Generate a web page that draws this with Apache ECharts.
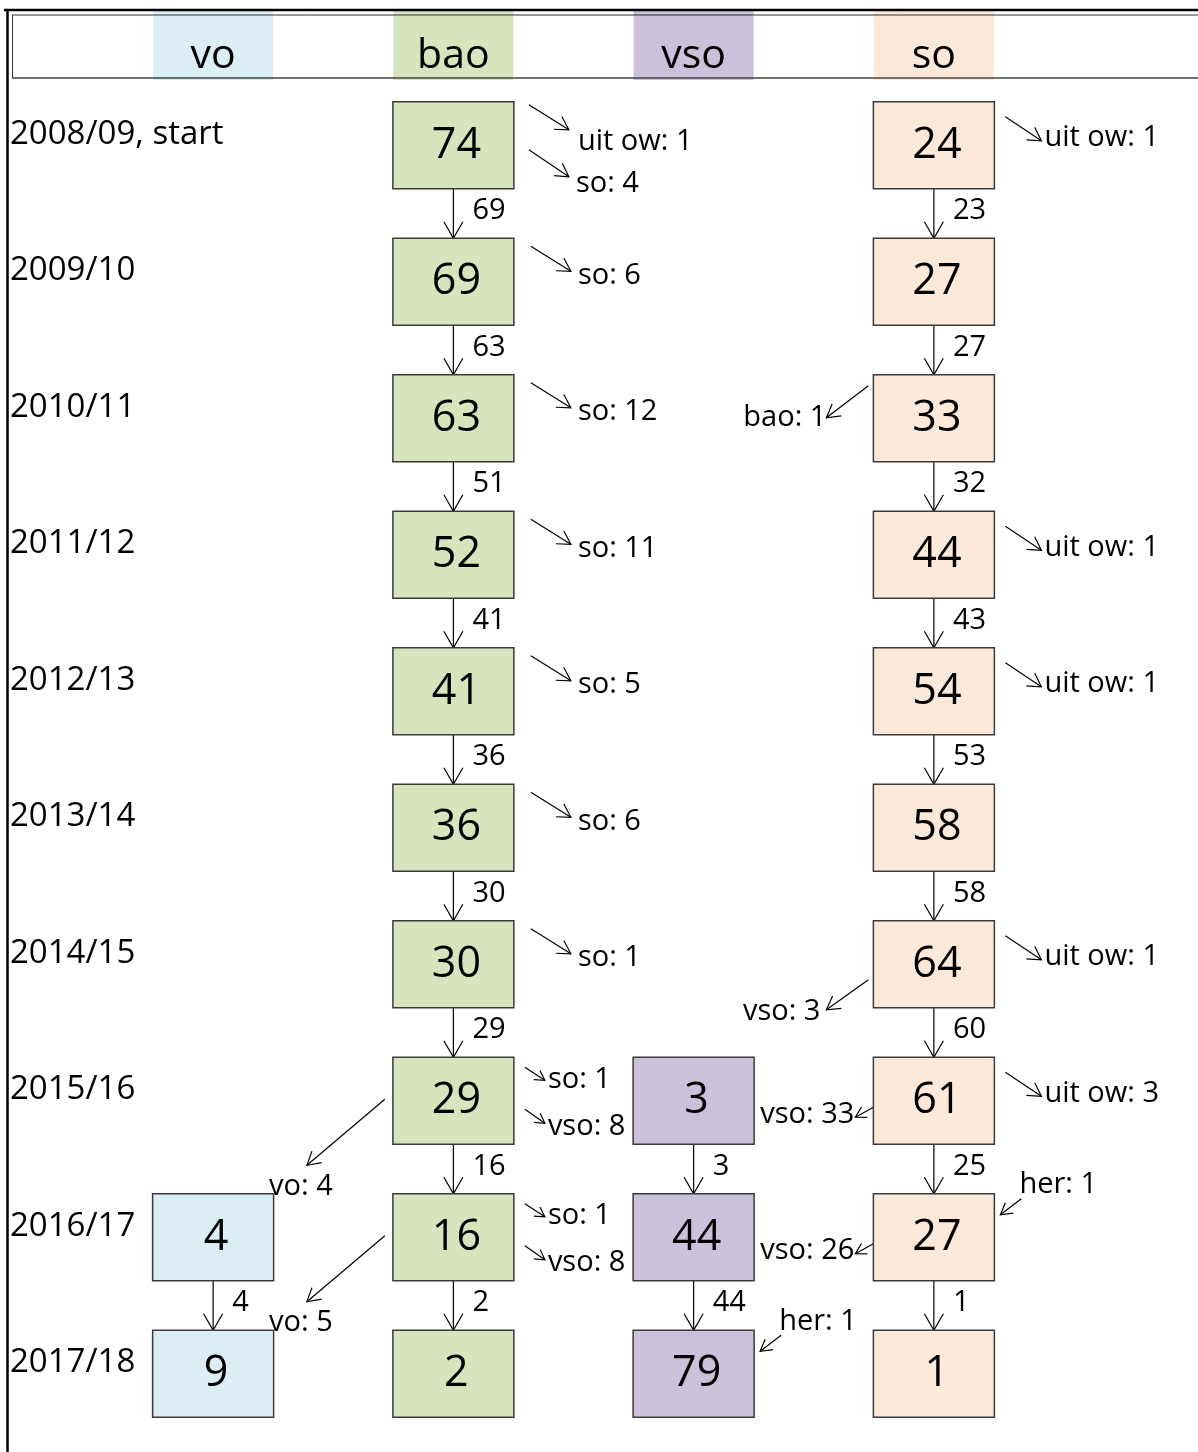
<!DOCTYPE html>
<html>
<head>
<meta charset="utf-8">
<title>doorstroom</title>
<script src="https://cdn.jsdelivr.net/npm/echarts@6/dist/echarts.min.js"></script>
<style>
  html, body { margin: 0; padding: 0; background: #fff; }
  #chart { width: 1198px; height: 1452px; }
</style>
</head>
<body>
<div id="chart"></div>
<script>
// rijen (schooljaren) en kolommen (groepen)
const years = ['2008/09, start', '2009/10', '2010/11', '2011/12', '2012/13',
  '2013/14', '2014/15', '2015/16', '2016/17', '2017/18']
const groups = ['vo', 'bao', 'vso', 'so']
const groupColors = ['#DAEEF3', '#D7E4BD', '#CCC1DA', '#FDE9D9']

// aantallen per jaar in elke groep
const voCount = [null, null, null, null, null, null, null, null, 4, 9]
const baoCount = [74, 69, 63, 52, 41, 36, 30, 29, 16, 2]
const vsoCount = [null, null, null, null, null, null, null, 3, 44, 79]
const soCount = [24, 27, 33, 44, 54, 58, 64, 61, 27, 1]

// doorstroom naar het volgende jaar in dezelfde groep
const voNext = [null, null, null, null, null, null, null, null, 4]
const baoNext = [69, 63, 51, 41, 36, 30, 29, 16, 2]
const vsoNext = [null, null, null, null, null, null, null, 3, 44]
const soNext = [23, 27, 32, 43, 53, 58, 60, 25, 1]

// zijstromen: [rij, tekst, soort pijl]
const baoSide = [
  [0, 'uit ow: 1', 'r0'], [0, 'so: 4', 'r1'],
  [1, 'so: 6', 'r'], [2, 'so: 12', 'r'], [3, 'so: 11', 'r'],
  [4, 'so: 5', 'r'], [5, 'so: 6', 'r'], [6, 'so: 1', 'r'],
  [7, 'so: 1', 'rs0'], [7, 'vso: 8', 'rs1'], [7, 'vo: 4', 'dl'],
  [8, 'so: 1', 'rs0'], [8, 'vso: 8', 'rs1'], [8, 'vo: 5', 'dl']
]
const vsoSide = [
  [9, 'her: 1', 'in']
]
const soSide = [
  [0, 'uit ow: 1', 'rt'], [2, 'bao: 1', 'l'], [3, 'uit ow: 1', 'rt'],
  [4, 'uit ow: 1', 'rt'], [6, 'uit ow: 1', 'rt'], [6, 'vso: 3', 'l2'],
  [7, 'uit ow: 3', 'rt'], [7, 'vso: 33', 'ls'],
  [8, 'her: 1', 'in'], [8, 'vso: 26', 'ls']
]

const counts = [voCount, baoCount, vsoCount, soCount]
const nexts = [voNext, baoNext, vsoNext, soNext]
const sides = [[], baoSide, vsoSide, soSide]

const BOX_W = 121
const BOX_H = 87
const LINE = '#000'
const FONT = '"Open Sans", "Noto Sans", sans-serif'
const SMALL = 29

// pijlvormen t.o.v. de box: anker R (rechterkant) of L (linkerkant), y t.o.v. bovenkant
const sideShapes = {
  r: {ax: 'R', arrow: [17, 8, 57, 33], label: [64, 37, 'left'], head: 15},
  rt: {ax: 'R', arrow: [11, 15, 47, 39], label: [50, 36, 'left'], head: 15},
  r0: {ax: 'R', arrow: [15, 3, 55, 28], label: [64, 40, 'left'], head: 15},
  r1: {ax: 'R', arrow: [15, 48, 55, 75], label: [62, 82, 'left'], head: 15},
  rs0: {ax: 'R', arrow: [11, 10, 31, 23], label: [34, 22, 'left'], head: 11},
  rs1: {ax: 'R', arrow: [11, 52, 31, 66], label: [34, 69, 'left'], head: 11},
  l: {ax: 'L', arrow: [-5, 11, -47, 43], label: [-47, 43, 'right'], head: 15},
  l2: {ax: 'L', arrow: [-5, 59, -47, 89], label: [-53, 91, 'right'], head: 15},
  ls: {ax: 'L', arrow: [0, 50, -18, 60], label: [-19, 57, 'right'], head: 12},
  in: {ax: 'R', arrow: [27, 5, 6, 21], label: [25, -9, 'left'], head: 13},
  dl: {ax: 'L', arrow: [-8, 42, -86, 108], label: [-92, 129, 'center'], head: 15}
}

let boxData = []
let flowData = []
let sideList = []
groups.forEach(function (g, gi) {
  counts[gi].forEach(function (v, r) {
    if (v !== null) boxData.push([gi, r, v])
  })
  nexts[gi].forEach(function (v, r) {
    if (v !== null) flowData.push([gi, r, v])
  })
  sides[gi].forEach(function (s) {
    sideList.push({g: gi, row: s[0], text: s[1], kind: s[2]})
  })
})

function arrow(x0, y0, x1, y1, head) {
  let a = Math.atan2(y1 - y0, x1 - x0)
  let s = Math.PI / 6
  let p1 = [x1 - head * Math.cos(a - s), y1 - head * Math.sin(a - s)]
  let p2 = [x1 - head * Math.cos(a + s), y1 - head * Math.sin(a + s)]
  return [
    {type: 'line', shape: {x1: x0, y1: y0, x2: x1, y2: y1}, style: {stroke: LINE, lineWidth: 1.2}},
    {type: 'polyline', shape: {points: [p1, [x1, y1], p2]}, style: {stroke: LINE, lineWidth: 1.2, fill: null}}
  ]
}

function label(text, x, y, align, size) {
  return {
    type: 'text',
    style: {text: text, x: x, y: y, align: align, verticalAlign: 'middle',
      fill: '#000', fontSize: size, fontFamily: FONT}
  }
}

function renderBox(params, api) {
  let gi = api.value(0)
  let c = api.coord([gi, api.value(1)])
  return {
    type: 'group',
    children: [
      {type: 'rect', shape: {x: c[0] - BOX_W / 2, y: c[1] - BOX_H / 2, width: BOX_W, height: BOX_H},
        style: {fill: groupColors[gi], stroke: '#3b3b3b', lineWidth: 1.5}},
      label(String(api.value(2)), c[0] + 3, c[1], 'center', 43)
    ]
  }
}

function renderFlow(params, api) {
  let gi = api.value(0)
  let r = api.value(1)
  let c0 = api.coord([gi, r])
  let c1 = api.coord([gi, r + 1])
  let y0 = c0[1] + BOX_H / 2
  let y1 = c1[1] - BOX_H / 2
  return {
    type: 'group',
    children: arrow(c0[0], y0, c0[0], y1, 19).concat([
      label(String(api.value(2)), c0[0] + 19, y0 + 22, 'left', SMALL)
    ])
  }
}

function renderSide(params, api) {
  let item = sideList[params.dataIndex]
  let sh = sideShapes[item.kind]
  let c = api.coord([item.g, item.row])
  let top = c[1] - BOX_H / 2
  let ax = sh.ax === 'R' ? c[0] + BOX_W / 2 : c[0] - BOX_W / 2
  let a = sh.arrow
  return {
    type: 'group',
    children: arrow(ax + a[0], top + a[1], ax + a[2], top + a[3], sh.head).concat([
      label(item.text, ax + sh.label[0], top + sh.label[1], sh.label[2], SMALL)
    ])
  }
}

let chart = echarts.init(document.getElementById('chart'), null, {renderer: 'canvas'})

let rich = {}
groups.forEach(function (g, gi) {
  rich[g] = {
    width: 120, height: 47, lineHeight: 47, padding: [22, 0, 0, 0],
    backgroundColor: groupColors[gi], align: 'center',
    fontSize: 41, fontFamily: FONT, color: '#000'
  }
})

chart.setOption({
  animation: false,
  backgroundColor: '#fff',
  grid: {left: 93, right: 144, top: 77, bottom: 10, outerBoundsMode: 'none'},
  xAxis: {
    type: 'category', data: groups, position: 'top',
    axisLine: {show: false}, axisTick: {show: false}, splitLine: {show: false},
    axisLabel: {
      interval: 0, margin: 8, rich: rich,
      formatter: function (v) { return '{' + v + '|' + v + '}' }
    }
  },
  yAxis: {
    type: 'category', data: years, inverse: true,
    axisLine: {show: false}, axisTick: {show: false}, splitLine: {show: false},
    axisLabel: {
      interval: 0, margin: 83, align: 'left', verticalAlign: 'bottom', lineHeight: 22,
      fontSize: 33, fontFamily: FONT, color: '#000'
    }
  },
  graphic: [
    {type: 'line', z: 10, shape: {x1: 4, y1: 10, x2: 1198, y2: 10}, style: {stroke: '#000', lineWidth: 2.5}},
    {type: 'line', z: 10, shape: {x1: 7.5, y1: 9, x2: 7.5, y2: 1452}, style: {stroke: '#000', lineWidth: 2.5}},
    {type: 'line', z: 10, shape: {x1: 12, y1: 15, x2: 1198, y2: 15}, style: {stroke: '#333', lineWidth: 1}},
    {type: 'line', z: 10, shape: {x1: 12.5, y1: 15, x2: 12.5, y2: 78}, style: {stroke: '#333', lineWidth: 1}},
    {type: 'line', z: 10, shape: {x1: 12, y1: 78, x2: 1198, y2: 78}, style: {stroke: '#444', lineWidth: 1.5}}
  ],
  series: [
    {type: 'custom', name: 'stroom', renderItem: renderFlow, data: flowData, z: 2},
    {type: 'custom', name: 'zij', renderItem: renderSide, data: sideList.map(function (s) { return [s.g, s.row] }), z: 2},
    {type: 'custom', name: 'aantal', renderItem: renderBox, data: boxData, z: 3}
  ]
})
</script>
</body>
</html>
